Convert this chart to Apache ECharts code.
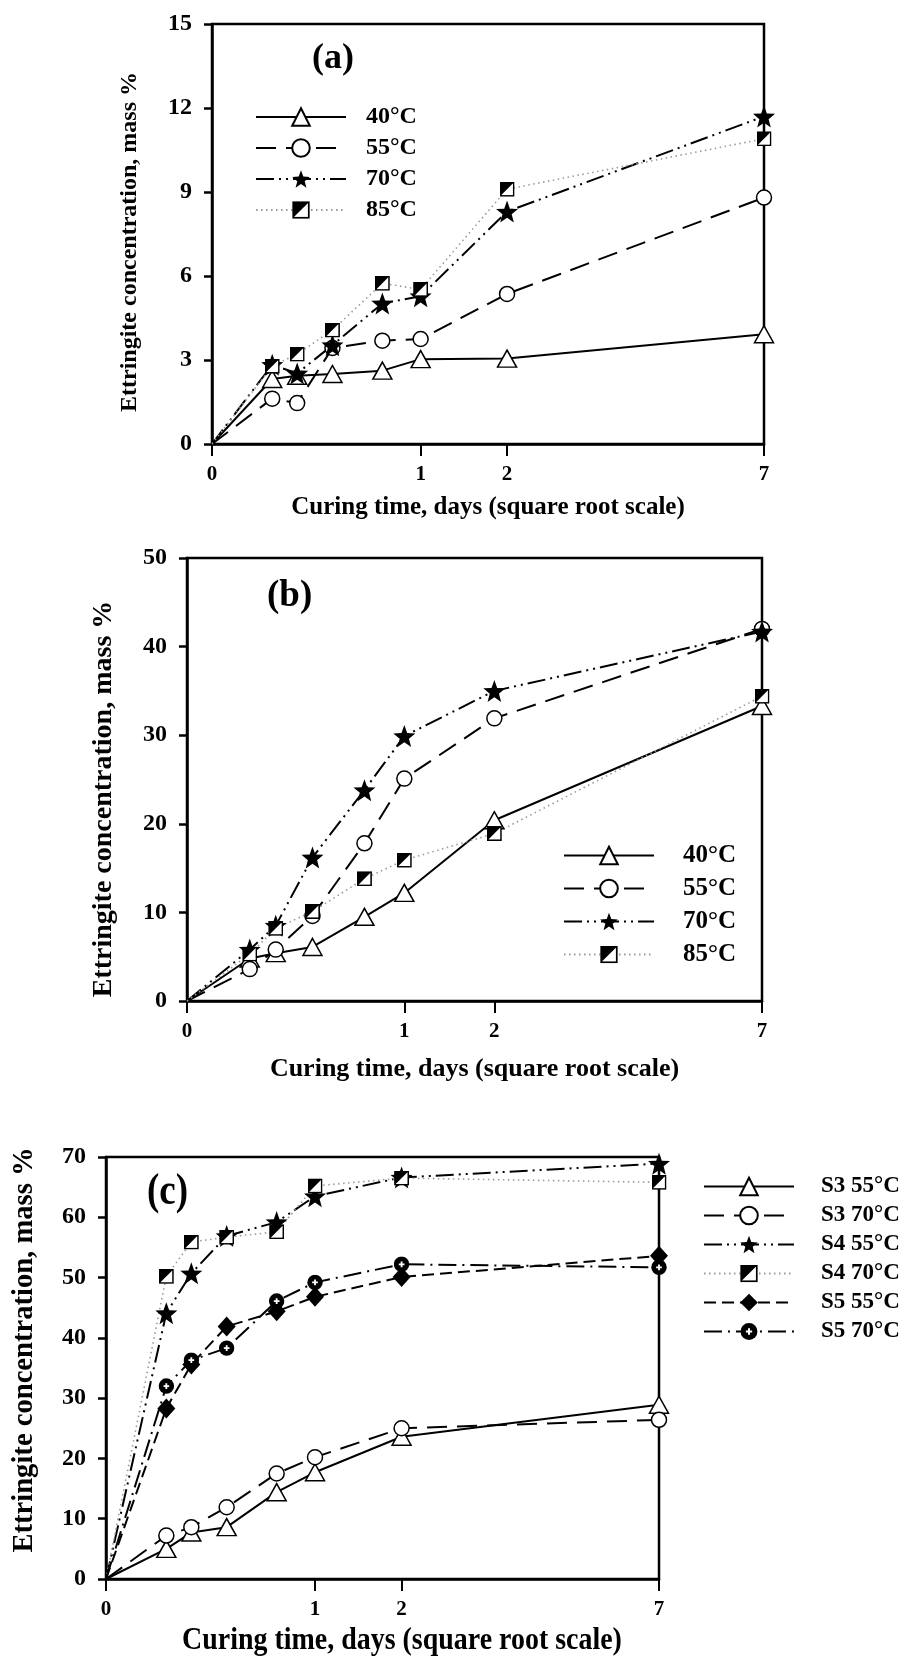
<!DOCTYPE html>
<html>
<head>
<meta charset="utf-8">
<title>Ettringite concentration</title>
<style>
  html, body { margin: 0; padding: 0; background: #fff; }
  #main { width: 905px; height: 1658px; }
</style>
</head>
<body>
<div id="main"></div>
<script src="https://cdn.jsdelivr.net/npm/echarts@6/dist/echarts.min.js"></script>
<script>
// curing time in days (origin, 2h, 4h, 8h, 16h, 1d, 2d, 7d); plotted on a square root scale
const TIME_DAYS = [0, 2 / 24, 4 / 24, 8 / 24, 16 / 24, 1, 2, 7];
const X_TICKS = [0, 1, 2, 7];

// panel (a)
const A_NAMES = ['40°C', '55°C', '70°C', '85°C'];
const A_40 = [0, 2.32, 2.44, 2.5, 2.62, 3.03, 3.05, 3.92];
const A_55 = [0, 1.62, 1.46, 3.43, 3.69, 3.75, 5.36, 8.8];
const A_70 = [0, 2.83, 2.52, 3.53, 5.02, 5.28, 8.3, 11.7];
const A_85 = [0, 2.78, 3.21, 4.07, 5.74, 5.52, 9.1, 10.9];

// panel (b)
const B_NAMES = ['40°C', '55°C', '70°C', '85°C'];
const B_40 = [0, 4.8, 5.4, 6.1, 9.5, 12.2, 20.4, 33.3];
const B_55 = [0, 3.6, 5.8, 9.6, 17.8, 25.1, 31.9, 42.0];
const B_70 = [0, 5.8, 8.5, 16.2, 23.8, 29.9, 35.0, 41.7];
const B_85 = [0, 5.3, 8.2, 10.1, 13.8, 15.9, 18.9, 34.4];

// panel (c)
const C_NAMES = ['S3 55°C', 'S3 70°C', 'S4 55°C', 'S4 70°C', 'S5 55°C', 'S5 70°C'];
const C_S3_55 = [0, 5.0, 7.7, 8.6, 14.4, 17.7, 23.6, 28.9];
const C_S3_70 = [0, 7.2, 8.6, 11.9, 17.5, 20.2, 25.0, 26.4];
const C_S4_55 = [0, 44.1, 50.7, 56.9, 59.2, 63.5, 66.6, 68.9];
const C_S4_70 = [0, 50.2, 55.9, 56.7, 57.6, 65.2, 66.5, 65.8];
const C_S5_55 = [0, 28.3, 35.6, 41.9, 44.4, 46.8, 50.1, 53.6];
const C_S5_70 = [0, 32.0, 36.3, 38.3, 46.1, 49.2, 52.2, 51.7];

const X_TITLE = 'Curing time, days (square root scale)';
const Y_TITLE = 'Ettringite concentration, mass %';
const FONT = '"Liberation Serif", "Times New Roman", serif';

function svgSymbol(svg) {
    return 'image://data:image/svg+xml;charset=utf-8,' + encodeURIComponent(svg);
}

function starPath() {
    let pts = [];
    for (let i = 0; i < 10; i++) {
        let r = i % 2 === 0 ? 50 : 21;
        let a = -Math.PI / 2 + i * Math.PI / 5;
        pts.push((50 + r * Math.cos(a)).toFixed(2) + ',' + (50 + r * Math.sin(a)).toFixed(2));
    }
    return 'path://M' + pts.join(' L') + ' Z';
}

const HALF_SQUARE = svgSymbol(
    "<svg xmlns='http://www.w3.org/2000/svg' width='56' height='56' viewBox='0 0 28 28'>" +
    "<rect x='1.5' y='1.5' width='25' height='25' fill='white' stroke='black' stroke-width='3'/>" +
    "<path d='M1.5 1.5 H26.5 L1.5 26.5 Z' fill='black'/></svg>");
const CIRCLE_PLUS = svgSymbol(
    "<svg xmlns='http://www.w3.org/2000/svg' width='56' height='56' viewBox='0 0 28 28'>" +
    "<circle cx='14' cy='14' r='13.5' fill='black'/>" +
    "<path d='M14 9 V19 M9 14 H19' stroke='white' stroke-width='3.2'/></svg>");

const MARKS = {
    triangle: {symbol: 'triangle', symbolSize: [19, 17], itemStyle: {color: '#fff', borderColor: '#000', borderWidth: 1.5}},
    circle: {symbol: 'circle', symbolSize: 15, itemStyle: {color: '#fff', borderColor: '#000', borderWidth: 1.5}},
    star: {symbol: starPath(), symbolSize: 22, itemStyle: {color: '#000', borderWidth: 0}},
    half: {symbol: HALF_SQUARE, symbolSize: 15, itemStyle: {color: '#000'}},
    diamond: {symbol: 'diamond', symbolSize: [18, 20], itemStyle: {color: '#000', borderWidth: 0}},
    plus: {symbol: CIRCLE_PLUS, symbolSize: 16, itemStyle: {color: '#000'}},
};

const LINES = {
    solid: {color: '#000', width: 2, type: 'solid'},
    dash: {color: '#000', width: 2, type: [20, 10]},
    dashDotDot: {color: '#000', width: 2, type: [18, 5, 2, 5, 2, 5]},
    dotted: {color: '#9a9a9a', width: 1.6, type: [1.5, 3.5]},
    shortDash: {color: '#000', width: 2, type: [12, 6]},
    dashDot: {color: '#000', width: 2, type: [18, 6, 2, 6]},
};

function makeSeries(name, values, idx, mark, line) {
    let m = MARKS[mark];
    return {
        name: name,
        type: 'line',
        xAxisIndex: idx,
        yAxisIndex: idx,
        clip: false,
        symbol: m.symbol,
        symbolSize: m.symbolSize,
        itemStyle: m.itemStyle,
        lineStyle: LINES[line],
        emphasis: {disabled: true},
        data: TIME_DAYS.map(function (t, i) {
            let d = {value: [Math.sqrt(t), values[i]]};
            if (i === 0) {
                d.symbol = 'none';
            }
            return d;
        }),
    };
}

function xAxis(idx, name, nameGap, nameSize) {
    let ticks = X_TICKS.map(function (v) { return Math.sqrt(v); });
    return {
        type: 'value',
        gridIndex: idx,
        min: 0,
        max: Math.sqrt(7),
        name: name,
        nameLocation: 'middle',
        nameGap: nameGap,
        nameTextStyle: {fontFamily: FONT, fontWeight: 'bold', fontSize: nameSize, color: '#000'},
        axisLine: {lineStyle: {color: '#000', width: 2.5}},
        axisTick: {show: true, length: 12, customValues: ticks, lineStyle: {color: '#000', width: 2}},
        axisLabel: {
            customValues: ticks,
            margin: 20,
            fontFamily: FONT, fontWeight: 'bold', fontSize: 21, color: '#000',
            formatter: function (v) { return String(Math.round(v * v)); }
        },
        splitLine: {show: false},
    };
}

function yAxis(idx, max, interval) {
    return {
        type: 'value',
        gridIndex: idx,
        min: 0,
        max: max,
        interval: interval,
        axisLine: {lineStyle: {color: '#000', width: 2.5}},
        axisTick: {show: true, length: 8, lineStyle: {color: '#000', width: 2.5}},
        axisLabel: {margin: 20, fontFamily: FONT, fontWeight: 'bold', fontSize: 24, color: '#000'},
        splitLine: {show: false},
    };
}

function legend(names, left, top, gap, textPad, size) {
    return {
        data: names,
        orient: 'vertical',
        left: left,
        top: top,
        itemWidth: 90,
        itemHeight: 22,
        itemGap: gap,
        selectedMode: false,
        textStyle: {fontFamily: FONT, fontWeight: 'bold', fontSize: size, color: '#000', padding: [0, 0, 0, textPad]},
    };
}

function panelLabel(text, left, top, size, sy) {
    return {
        type: 'text', left: left, top: top, scaleY: sy,
        style: {text: text, font: 'bold ' + size + 'px ' + FONT, fill: '#000'}
    };
}

// free title text, centred on (x, y)
function title(text, x, y, size, rotated, sx, sy) {
    return {
        type: 'text', x: x, y: y, rotation: rotated ? Math.PI / 2 : 0,
        scaleX: sx, scaleY: sy,
        style: {text: text, font: 'bold ' + size + 'px ' + FONT, fill: '#000',
                align: 'center', verticalAlign: 'middle'}
    };
}

let myChart = echarts.init(document.getElementById('main'));

let option = {
    backgroundColor: '#fff',
    animation: false,
    grid: [
        {left: 212, top: 24, width: 552, height: 420, show: true, borderColor: '#000', borderWidth: 2.5},
        {left: 187, top: 558, width: 575, height: 443, show: true, borderColor: '#000', borderWidth: 2.5},
        {left: 106, top: 1157, width: 553, height: 422, show: true, borderColor: '#000', borderWidth: 2.5},
    ],
    xAxis: [xAxis(0, X_TITLE, 51, 25), xAxis(1, X_TITLE, 55, 26), xAxis(2, '', 52, 22)],
    yAxis: [yAxis(0, 15, 3), yAxis(1, 50, 10), yAxis(2, 70, 10)],
    legend: [
        legend(A_NAMES, 250, 100, 7, 15, 24),
        legend(B_NAMES, 558, 838, 8, 24, 25),
        legend(C_NAMES, 698, 1170, 6, 22, 23),
    ],
    graphic: [
        panelLabel('(a)', 312, 41, 36, 1),
        panelLabel('(b)', 267, 578, 37, 1),
        panelLabel('(c)', 147, 1170, 37, 1.2),
        title(Y_TITLE, 130, 242, 24, true, 1, 1),
        title(Y_TITLE, 104, 799, 28, true, 1, 1),
        title(X_TITLE, 402, 1641, 22, false, 1.27, 1.42),
        title(Y_TITLE, 24, 1350, 22, true, 1.3, 1.35),
    ],
    series: [
        makeSeries(A_NAMES[0], A_40, 0, 'triangle', 'solid'),
        makeSeries(A_NAMES[1], A_55, 0, 'circle', 'dash'),
        makeSeries(A_NAMES[2], A_70, 0, 'star', 'dashDotDot'),
        makeSeries(A_NAMES[3], A_85, 0, 'half', 'dotted'),

        makeSeries(B_NAMES[0], B_40, 1, 'triangle', 'solid'),
        makeSeries(B_NAMES[1], B_55, 1, 'circle', 'dash'),
        makeSeries(B_NAMES[2], B_70, 1, 'star', 'dashDotDot'),
        makeSeries(B_NAMES[3], B_85, 1, 'half', 'dotted'),

        makeSeries(C_NAMES[0], C_S3_55, 2, 'triangle', 'solid'),
        makeSeries(C_NAMES[1], C_S3_70, 2, 'circle', 'dash'),
        makeSeries(C_NAMES[2], C_S4_55, 2, 'star', 'dashDotDot'),
        makeSeries(C_NAMES[3], C_S4_70, 2, 'half', 'dotted'),
        makeSeries(C_NAMES[4], C_S5_55, 2, 'diamond', 'shortDash'),
        makeSeries(C_NAMES[5], C_S5_70, 2, 'plus', 'dashDot'),
    ]
};

myChart.setOption(option);
</script>
</body>
</html>
